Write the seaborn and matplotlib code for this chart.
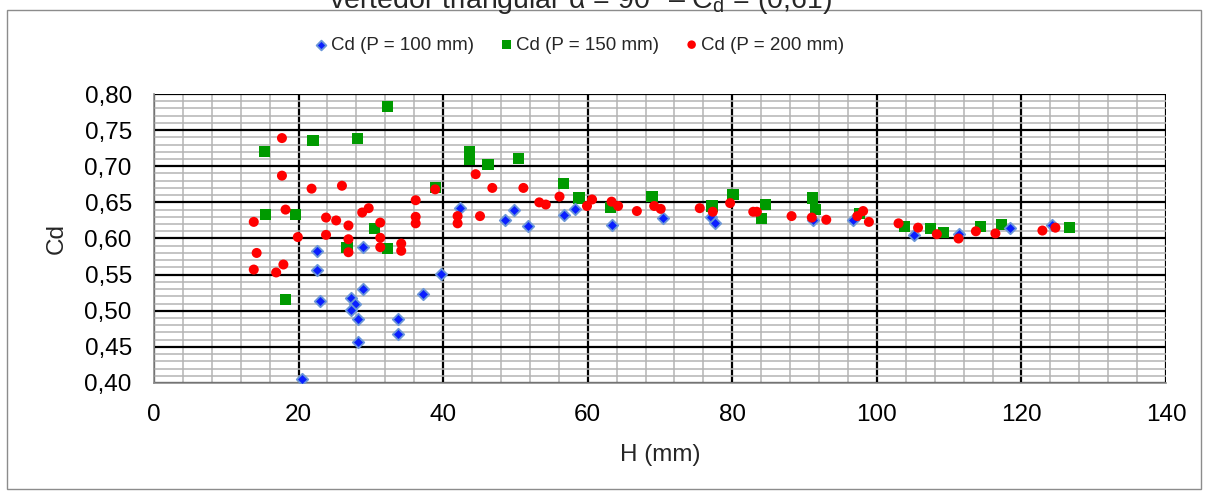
import numpy as np
import pandas as pd
import matplotlib
matplotlib.use("Agg")
import matplotlib.pyplot as plt
import seaborn as sns
from matplotlib.ticker import MultipleLocator, FuncFormatter
from matplotlib.patches import Rectangle

# ---- data ----
H_100 = [20.5, 22.6, 22.6, 22.9, 27.2, 27.8, 27.2, 28.2, 28.2, 28.9, 28.9, 33.7, 33.7,
         37.2, 39.7, 42.3, 48.6, 49.8, 51.8, 56.7, 58.2, 63.4, 70.4, 77.1, 77.6, 91.1,
         96.7, 105.2, 111.4, 118.4, 124.2]
Cd_100 = [0.406, 0.583, 0.557, 0.513, 0.517, 0.510, 0.501, 0.488, 0.457, 0.588, 0.530, 0.488, 0.468,
          0.523, 0.551, 0.642, 0.626, 0.640, 0.617, 0.633, 0.641, 0.618, 0.629, 0.630, 0.622, 0.626,
          0.626, 0.605, 0.606, 0.614, 0.618]

H_150 = [15.3, 15.4, 19.6, 18.2, 32.3, 22.0, 28.1, 38.9, 30.5, 26.7, 32.3, 43.6, 43.6,
         46.2, 50.4, 56.7, 58.8, 63.1, 68.9, 77.2, 80.1, 84.6, 84.0, 91.1, 91.5, 97.6,
         103.8, 107.4, 109.2, 114.3, 117.2, 126.7]
Cd_150 = [0.721, 0.633, 0.633, 0.515, 0.783, 0.736, 0.738, 0.670, 0.614, 0.587, 0.586, 0.720, 0.709,
          0.703, 0.711, 0.676, 0.656, 0.643, 0.658, 0.645, 0.661, 0.647, 0.628, 0.656, 0.640, 0.635,
          0.617, 0.614, 0.608, 0.617, 0.619, 0.615]

H_200 = [17.7, 17.7, 18.2, 13.8, 14.2, 17.9, 13.8, 16.9, 19.9, 21.8, 26.0, 38.9, 36.2,
         29.7, 28.8, 23.8, 25.2, 26.9, 31.3, 36.2, 36.2, 23.8, 26.9, 26.9, 31.3, 31.3,
         34.2, 34.2, 44.5, 46.8, 51.1, 42.0, 42.0, 45.1, 53.3, 54.2, 56.1, 59.9, 60.6,
         63.3, 64.2, 66.8, 69.2, 70.1, 75.5, 77.3, 79.7, 82.9, 83.4, 88.2, 91.0, 93.0,
         97.3, 98.1, 98.9, 103.0, 105.7, 108.3, 111.3, 113.7, 116.4, 122.9, 124.7]
Cd_200 = [0.739, 0.687, 0.640, 0.623, 0.580, 0.564, 0.557, 0.553, 0.602, 0.669, 0.673, 0.668, 0.653,
          0.642, 0.636, 0.629, 0.625, 0.618, 0.622, 0.630, 0.621, 0.605, 0.599, 0.581, 0.601, 0.588,
          0.593, 0.583, 0.689, 0.670, 0.670, 0.631, 0.621, 0.631, 0.650, 0.647, 0.658, 0.645, 0.654,
          0.651, 0.645, 0.638, 0.645, 0.641, 0.642, 0.637, 0.649, 0.637, 0.637, 0.631, 0.629, 0.626,
          0.631, 0.638, 0.623, 0.621, 0.615, 0.606, 0.600, 0.610, 0.607, 0.611, 0.615]

labels = ["Cd (P = 100 mm)", "Cd (P = 150 mm)", "Cd (P = 200 mm)"]
title_text = "vertedor triangular α = 90° – C$_\\mathregular{d}$ = (0,61)"
x_label = "H (mm)"
y_label = "Cd"

# ---- style ----
sns.set_theme(style="white")
plt.rcParams["font.family"] = ["Liberation Sans", "DejaVu Sans"]
plt.rcParams["mathtext.fontset"] = "custom"
plt.rcParams["mathtext.rm"] = "Liberation Sans"
plt.rcParams["mathtext.it"] = "Liberation Sans:italic"

W, Hh = 1208, 496
fig = plt.figure(figsize=(W / 100, Hh / 100), dpi=100)
fig.patch.set_facecolor("white")

# outer chart frame
fig.patches.append(Rectangle((7 / W, 1 - 489 / Hh), (1201 - 7) / W, (489 - 10) / Hh,
                             transform=fig.transFigure, fill=False,
                             edgecolor="#8c8c8c", linewidth=1.0, zorder=0))

ax = fig.add_axes([154 / W, 1 - 383 / Hh, 1012 / W, (383 - 94) / Hh])
ax.set_facecolor("white")

df100 = pd.DataFrame({"H": H_100, "Cd": Cd_100})
df150 = pd.DataFrame({"H": H_150, "Cd": Cd_150})
df200 = pd.DataFrame({"H": H_200, "Cd": Cd_200})

sns.scatterplot(data=df100, x="H", y="Cd", ax=ax, marker="D", s=34, color="#0a1fff",
                edgecolor="#6a96d8", linewidth=1.3, label=labels[0], zorder=5)
sns.scatterplot(data=df150, x="H", y="Cd", ax=ax, marker="s", s=64, color="#009a00",
                edgecolor="none", linewidth=0, label=labels[1], zorder=4)
sns.scatterplot(data=df200, x="H", y="Cd", ax=ax, marker="o", s=52, color="#ff0000",
                edgecolor="none", linewidth=0, label=labels[2], zorder=6)

ax.set_xlim(0, 140)
ax.set_ylim(0.40, 0.80)
ax.xaxis.set_major_locator(MultipleLocator(20))
ax.xaxis.set_minor_locator(MultipleLocator(4))
ax.yaxis.set_major_locator(MultipleLocator(0.05))
ax.yaxis.set_minor_locator(MultipleLocator(0.01))
ax.yaxis.set_major_formatter(FuncFormatter(lambda v, p: f"{v:.2f}".replace(".", ",")))
ax.xaxis.set_major_formatter(FuncFormatter(lambda v, p: f"{v:.0f}"))

ax.grid(which="minor", color="#b4b4b4", linewidth=1.1, zorder=1)
ax.grid(which="major", color="black", linewidth=1.6, zorder=2)
ax.set_axisbelow(True)

for side in ["top", "right"]:
    ax.spines[side].set_visible(False)
for side in ["left", "bottom"]:
    ax.spines[side].set_color("#8c8c8c")
    ax.spines[side].set_linewidth(1.2)
    ax.spines[side].set_zorder(3)

ax.tick_params(axis="both", which="major", direction="out", length=6, width=1.2,
               color="#8c8c8c", labelsize=17.5, labelcolor="black")
ax.tick_params(axis="y", which="major", pad=10)
ax.tick_params(axis="x", which="major", pad=9)
ax.tick_params(axis="both", which="minor", length=0)

ax.set_xlabel(x_label, fontsize=17.5, labelpad=13)
ax.set_ylabel(y_label, fontsize=17.5, labelpad=12)

leg = ax.legend(loc="center", bbox_to_anchor=(578 / W, 1 - 45 / Hh),
                bbox_transform=fig.transFigure, ncol=3, frameon=False,
                fontsize=13.5, handletextpad=0.0, columnspacing=1.25,
                handlelength=1.0, markerscale=0.85)

fig.text(580 / W, 1 - 8 / Hh, title_text, ha="center", va="baseline", fontsize=20.5)

fig.savefig("out.png", dpi=100, facecolor="white")
